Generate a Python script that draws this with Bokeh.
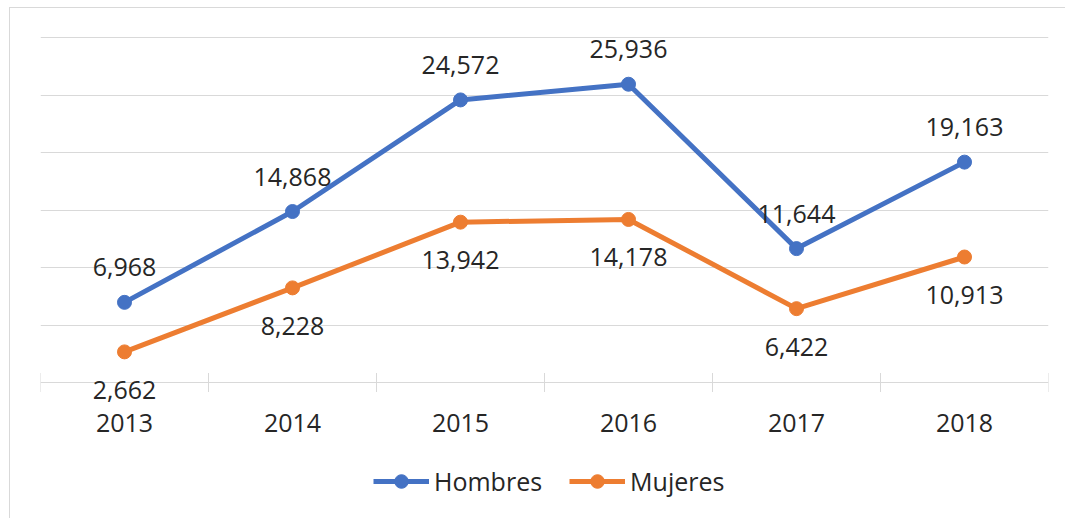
import math
from bokeh.plotting import figure
from bokeh.models import ColumnDataSource, Range1d, FixedTicker, Legend, LegendItem, LabelSet
from bokeh.core.properties import value
from bokeh.embed import file_html
from bokeh.resources import INLINE

years = [2013, 2014, 2015, 2016, 2017, 2018]
hombres = [6968, 14868, 24572, 25936, 11644, 19163]
mujeres = [2662, 8228, 13942, 14178, 6422, 10913]
series_names = ["Hombres", "Mujeres"]
colors = ["#4472C4", "#ED7D31"]
y_ticks = [0, 5000, 10000, 15000, 20000, 25000, 30000]

FONT = "Open Sans"
FS = "25px"
TEXT = "#262626"
GRID = "#d9d9d9"

W, H = 1056, 511
LEFT = 30
PAD = 2             # px of headroom above the top gridline
TOP = 29 - PAD
PLOT_W = 1008
PLOT_H = 345        # pixel height from y=0 to y=30000
BOTTOM = 0
frame_h = H - TOP - BOTTOM
per_px = y_ticks[-1] / PLOT_H
y_end = y_ticks[-1] + PAD * per_px
y_start = -(frame_h - PLOT_H - PAD) * per_px

src = ColumnDataSource(dict(
    x=years, h=hombres, m=mujeres,
    hl=[f"{v:,}" for v in hombres],
    ml=[f"{v:,}" for v in mujeres],
    yl=[str(y) for y in years],
    zero=[0] * len(years),
))
bsrc = ColumnDataSource(dict(x=[y - 0.5 for y in years] + [years[-1] + 0.5],
                             y=[0] * (len(years) + 1)))

p = figure(width=W, height=H, output_backend="svg", toolbar_location=None,
           x_range=Range1d(years[0] - 0.5, years[-1] + 0.5),
           y_range=Range1d(y_start, y_end),
           min_border_left=LEFT, min_border_right=W - LEFT - PLOT_W,
           min_border_top=TOP, min_border_bottom=BOTTOM)
p.styles = {"margin-left": "9px", "margin-top": "7px",
            "border-left": "1px solid #d9d9d9", "border-top": "1px solid #d9d9d9"}
p.outline_line_color = None
p.background_fill_color = "white"
p.border_fill_color = "white"

p.axis.visible = False
p.ygrid.ticker = FixedTicker(ticks=y_ticks)
p.ygrid.grid_line_color = GRID
p.ygrid.grid_line_width = 1
p.xgrid.grid_line_color = None

# category boundary ticks crossing the baseline
p.scatter("x", "y", source=bsrc, marker="dash", angle=math.pi / 2, size=19,
          line_color=GRID, line_width=1)

# category labels
p.add_layout(LabelSet(x="x", y="zero", text="yl", source=src, y_offset=-40,
                      text_align="center", text_baseline="middle",
                      text_font=value(FONT), text_font_size=FS, text_color=TEXT))

lh = p.line("x", "h", source=src, line_color=colors[0], line_width=5)
sh = p.scatter("x", "h", source=src, size=14, fill_color=colors[0], line_color=colors[0])
lm = p.line("x", "m", source=src, line_color=colors[1], line_width=5)
sm = p.scatter("x", "m", source=src, size=14, fill_color=colors[1], line_color=colors[1])

for col, lab, off in [("h", "hl", 35), ("m", "ml", -38)]:
    p.add_layout(LabelSet(x="x", y=col, text=lab, source=src, y_offset=off,
                          text_align="center", text_baseline="middle",
                          text_font=value(FONT), text_font_size=FS, text_color=TEXT))

legend = Legend(items=[LegendItem(label=series_names[0], renderers=[lh, sh]),
                       LegendItem(label=series_names[1], renderers=[lm, sm])],
                location=(333, 21), orientation="horizontal",
                padding=0, margin=0, spacing=27, label_standoff=5,
                glyph_width=56, glyph_height=34,
                label_text_font=FONT, label_text_font_size=FS, label_text_color=TEXT,
                border_line_color=None, background_fill_alpha=0)
p.add_layout(legend, "center")

open("out.html", "w").write(file_html(p, INLINE))
